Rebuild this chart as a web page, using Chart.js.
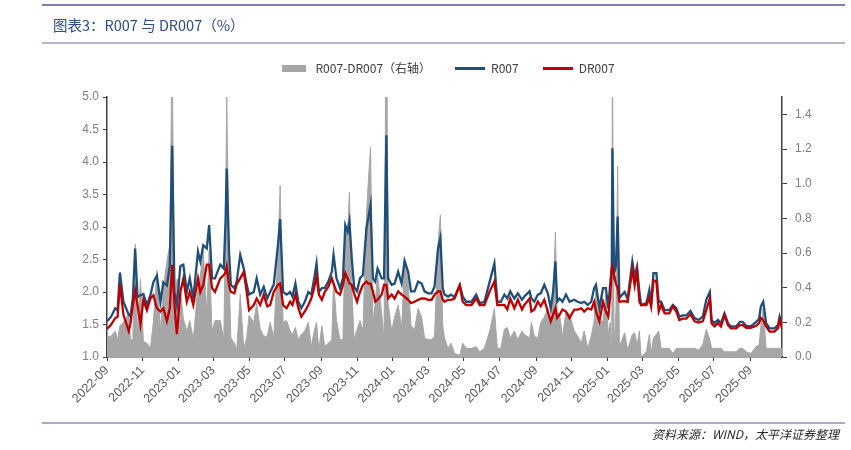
<!DOCTYPE html>
<html lang="zh-CN">
<head>
<meta charset="utf-8">
<title>R007 与 DR007</title>
<script src="https://cdn.jsdelivr.net/npm/chart.js@4.4.1/dist/chart.umd.min.js"></script>
<style>
  html, body { margin: 0; padding: 0; background: #fff; }
  #wrap { position: relative; width: 851px; height: 450px; overflow: hidden; }
  #chart { position: absolute; left: 0; top: 0; }
  .rule { position: absolute; left: 42px; width: 803px; }
  #title { position: absolute; left: 53px; top: 14px; font: 14.5px "Noto Sans CJK SC"; line-height: 22px; color: #2e4d86; }
  #source { position: absolute; right: 12px; top: 425px; font: italic 12px "Noto Sans CJK SC"; line-height: 18px; color: #262626; }
</style>
</head>
<body>
<div id="wrap">
  <canvas id="chart" width="851" height="450"></canvas>
  <div class="rule" style="top:4px;height:2px;background:#7f7fa8"></div>
  <div id="title">图表3：R007 与 DR007（%）</div>
  <div class="rule" style="top:42px;height:2px;background:#b5b5cf"></div>
  <div class="rule" style="top:422px;height:2px;background:#aaaacb"></div>
  <div id="source">资料来源：WIND，太平洋证券整理</div>
</div>
<script>
// 数据（从原图读取，约每周一个点）
const dates = [
  '2022-09-01','2022-09-08','2022-09-15','2022-09-19','2022-09-23','2022-09-29','2022-10-08','2022-10-11','2022-10-15','2022-10-19',
  '2022-10-23','2022-10-28','2022-11-02','2022-11-08','2022-11-14','2022-11-19','2022-11-25','2022-12-01','2022-12-06','2022-12-12',
  '2022-12-17','2022-12-21','2022-12-25','2022-12-29','2023-01-04','2023-01-09','2023-01-15','2023-01-20','2023-01-26','2023-02-03',
  '2023-02-07','2023-02-12','2023-02-18','2023-02-22','2023-02-27','2023-03-04','2023-03-13','2023-03-19','2023-03-22','2023-03-24',
  '2023-03-28','2023-03-31','2023-04-06','2023-04-10','2023-04-16','2023-04-22','2023-04-27','2023-05-01','2023-05-09','2023-05-14',
  '2023-05-20','2023-05-26','2023-06-01','2023-06-06','2023-06-12','2023-06-19','2023-06-23','2023-06-28','2023-07-04','2023-07-10',
  '2023-07-14','2023-07-19','2023-07-24','2023-07-29','2023-08-04','2023-08-10','2023-08-15','2023-08-20','2023-08-24','2023-08-28',
  '2023-09-02','2023-09-07','2023-09-13','2023-09-19','2023-09-22','2023-09-27','2023-10-03','2023-10-08','2023-10-12','2023-10-16',
  '2023-10-19','2023-10-23','2023-10-27','2023-11-01','2023-11-06','2023-11-11','2023-11-17','2023-11-20','2023-11-24','2023-11-28',
  '2023-12-02','2023-12-06','2023-12-13','2023-12-17','2023-12-21','2023-12-24','2023-12-30','2024-01-04','2024-01-10','2024-01-16',
  '2024-01-21','2024-01-27','2024-02-01','2024-02-07','2024-02-13','2024-02-19','2024-02-24','2024-03-01','2024-03-07','2024-03-12',
  '2024-03-18','2024-03-22','2024-03-26','2024-03-29','2024-04-04','2024-04-09','2024-04-15','2024-04-24','2024-04-29','2024-05-05',
  '2024-05-14','2024-05-22','2024-05-28','2024-06-05','2024-06-14','2024-06-22','2024-06-27','2024-07-03','2024-07-09','2024-07-14',
  '2024-07-19','2024-07-26','2024-08-01','2024-08-08','2024-08-12','2024-08-21','2024-08-24','2024-08-29','2024-09-04','2024-09-09',
  '2024-09-15','2024-09-21','2024-09-26','2024-09-30','2024-10-04','2024-10-07','2024-10-11','2024-10-16','2024-10-22','2024-10-28',
  '2024-11-05','2024-11-11','2024-11-17','2024-11-22','2024-11-28','2024-12-04','2024-12-09','2024-12-12','2024-12-18','2024-12-24',
  '2024-12-29','2025-01-02','2025-01-05','2025-01-08','2025-01-09','2025-01-12','2025-01-15','2025-01-18','2025-01-21','2025-01-30',
  '2025-02-04','2025-02-12','2025-02-16','2025-02-20','2025-02-24','2025-02-27','2025-03-08','2025-03-13','2025-03-16','2025-03-20',
  '2025-03-25','2025-03-29','2025-04-02','2025-04-08','2025-04-16','2025-04-22','2025-04-28','2025-05-03','2025-05-09','2025-05-15',
  '2025-05-22','2025-05-29','2025-06-05','2025-06-12','2025-06-18','2025-06-24','2025-06-27','2025-07-02','2025-07-08','2025-07-13',
  '2025-07-19','2025-07-25','2025-07-30','2025-08-08','2025-08-14','2025-08-19','2025-08-25','2025-09-02','2025-09-11','2025-09-16',
  '2025-09-19','2025-09-23','2025-09-28','2025-10-04','2025-10-12','2025-10-18','2025-10-21','2025-10-25'
];
const r007 = [
  1.55,1.62,1.75,1.72,2.30,1.85,1.65,1.62,1.90,2.67,
  1.92,1.95,1.97,1.80,1.95,2.15,2.25,1.85,2.15,2.10,
  2.40,4.25,2.00,1.80,2.40,2.42,2.00,2.21,1.90,2.62,
  2.47,2.72,2.67,3.03,2.21,2.21,2.42,2.36,3.10,3.90,
  2.60,2.11,2.06,2.16,2.57,2.36,2.11,1.96,2.00,2.21,
  1.96,2.08,1.90,2.00,2.11,2.70,3.12,2.00,1.96,2.00,
  1.93,2.13,1.85,1.75,1.85,2.00,1.96,2.21,2.44,2.00,
  2.06,2.06,2.16,2.31,2.57,2.21,2.06,2.21,3.03,2.93,
  3.08,2.52,2.08,2.01,2.21,2.26,2.98,3.13,3.34,2.21,
  2.16,2.36,2.21,2.21,4.41,2.21,2.11,2.13,2.31,2.13,
  2.48,2.31,2.01,2.01,2.16,2.13,2.01,1.98,1.98,2.08,
  2.67,2.83,2.06,1.96,1.93,1.96,1.92,2.11,1.93,1.85,
  1.85,1.96,1.83,1.85,2.16,2.44,1.85,1.85,1.96,1.90,
  2.01,1.90,1.98,1.88,1.93,2.01,1.90,1.85,1.96,1.98,
  2.11,1.98,1.75,2.00,2.47,1.85,1.90,1.85,1.96,1.85,
  1.88,1.85,1.83,1.85,1.80,1.85,2.06,2.11,1.75,2.06,
  2.06,1.75,2.10,2.40,4.21,2.29,2.39,3.16,1.91,2.00,
  1.89,2.47,2.24,2.39,2.00,1.80,1.83,2.03,1.80,2.29,
  2.29,1.85,1.85,1.72,1.72,1.80,1.75,1.62,1.64,1.64,
  1.71,1.60,1.57,1.62,1.88,2.00,1.57,1.52,1.57,1.52,
  1.67,1.52,1.47,1.47,1.54,1.54,1.48,1.47,1.54,1.59,
  1.78,1.85,1.52,1.44,1.44,1.49,1.62,1.49
];
const dr007 = [
  1.43,1.50,1.60,1.62,2.12,1.65,1.40,1.52,1.80,2.02,
  1.80,1.50,1.88,1.72,1.90,1.95,1.75,1.70,1.75,1.55,
  1.75,2.42,1.80,1.35,2.00,2.20,1.85,2.00,1.80,2.21,
  2.00,2.11,2.42,2.42,2.06,2.00,2.21,2.26,2.30,2.39,
  2.10,2.00,1.98,2.12,2.21,2.31,2.00,1.72,1.80,1.90,
  1.80,1.96,1.78,1.80,2.00,2.11,2.13,1.80,1.75,1.85,
  1.80,1.96,1.75,1.62,1.70,1.80,1.90,2.06,2.24,1.96,
  1.88,2.00,2.08,2.21,2.13,2.00,1.96,2.11,2.29,2.21,
  2.13,2.11,1.98,1.85,2.00,2.11,2.16,2.13,2.13,2.01,
  1.85,1.88,1.96,2.11,2.11,1.90,1.96,1.90,2.01,1.96,
  1.93,1.88,1.83,1.85,1.88,1.90,1.90,1.88,1.88,1.96,
  2.01,2.01,1.88,1.85,1.88,1.88,1.90,2.10,1.85,1.80,
  1.80,1.90,1.80,1.80,2.01,2.16,1.80,1.80,1.80,1.73,
  1.90,1.75,1.88,1.73,1.80,1.90,1.70,1.73,1.85,1.78,
  1.88,1.70,1.55,1.65,1.75,1.60,1.65,1.73,1.70,1.60,
  1.73,1.73,1.75,1.70,1.75,1.73,1.85,1.70,1.55,1.85,
  1.70,1.62,1.90,2.35,2.39,2.26,2.13,2.06,1.85,1.86,
  1.85,2.34,2.10,2.32,1.85,1.80,1.80,1.90,1.78,2.18,
  2.16,1.70,1.80,1.67,1.67,1.78,1.70,1.57,1.59,1.59,
  1.66,1.55,1.53,1.55,1.72,1.90,1.52,1.47,1.52,1.47,
  1.64,1.49,1.44,1.44,1.49,1.49,1.45,1.45,1.48,1.52,
  1.60,1.57,1.47,1.39,1.39,1.44,1.57,1.44
];
const tickLabels = ['2022-09','2022-11','2023-01','2023-03','2023-05','2023-07','2023-09','2023-11','2024-01','2024-03',
  '2024-05','2024-07','2024-09','2024-11','2025-01','2025-03','2025-05','2025-07','2025-09'];
const leftTicks = [1.0, 1.5, 2.0, 2.5, 3.0, 3.5, 4.0, 4.5, 5.0];
const rightTicks = [0.0, 0.2, 0.4, 0.6, 0.8, 1.0, 1.2, 1.4];

// 日期 -> 距 2022-09-01 的天数
const START = Date.UTC(2022, 8, 1);
function toDay(s) {
  const p = s.split('-').map(Number);
  return (Date.UTC(p[0], p[1] - 1, p[2] || 1) - START) / 864e5;
}
const xs = dates.map(toDay);
const tickDays = tickLabels.map(toDay);
const spread = r007.map((v, i) => +(v - dr007[i]).toFixed(2)); // R007-DR007

// 图例标记
function marker(color, w, h) {
  const c = document.createElement('canvas');
  c.width = w;
  c.height = h;
  const g = c.getContext('2d');
  g.fillStyle = color;
  g.fillRect(0, 0, w, h);
  return c;
}

// 图例和绘图区之间留空
const legendGap = {
  id: 'legendGap',
  beforeInit(chart) {
    const fit = chart.legend.fit;
    chart.legend.fit = function () {
      fit.call(this);
      this.height += 13;
    };
  }
};

const tickFont = { family: 'Liberation Sans', size: 12 };
const axisColor = '#404040';

new Chart(document.getElementById('chart'), {
  type: 'line',
  data: {
    datasets: [
      {
        label: 'R007-DR007（右轴）',
        data: xs.map((x, i) => ({ x: x, y: spread[i] })),
        xAxisID: 'x',
        yAxisID: 'y1',
        fill: 'origin',
        backgroundColor: '#a6a6a6',
        borderColor: '#a6a6a6',
        borderWidth: 1,
        pointRadius: 0,
        pointStyle: marker('#a6a6a6', 24, 7),
        order: 3
      },
      {
        label: 'R007',
        data: xs.map((x, i) => ({ x: x, y: r007[i] })),
        xAxisID: 'x',
        yAxisID: 'y',
        borderColor: '#1f4e79',
        borderWidth: 2.3,
        pointRadius: 0,
        pointStyle: marker('#1f4e79', 30, 3),
        fill: false,
        order: 2
      },
      {
        label: 'DR007',
        data: xs.map((x, i) => ({ x: x, y: dr007[i] })),
        xAxisID: 'x',
        yAxisID: 'y',
        borderColor: '#c00000',
        borderWidth: 2.3,
        pointRadius: 0,
        pointStyle: marker('#c00000', 30, 3),
        fill: false,
        order: 1
      }
    ]
  },
  options: {
    responsive: false,
    animation: false,
    layout: { padding: { left: 53, right: 10, top: 38, bottom: 0 } },
    plugins: {
      tooltip: { enabled: false },
      legend: {
        position: 'top',
        labels: {
          usePointStyle: true,
          pointStyleWidth: 30,
          padding: 24,
          color: '#404040',
          font: { family: 'Noto Sans CJK SC', size: 12 },
          sort: (a, b) => a.datasetIndex - b.datasetIndex
        }
      }
    },
    scales: {
      x: {
        type: 'linear',
        position: 'bottom',
        min: 0,
        max: 1150,
        afterBuildTicks: (axis) => { axis.ticks = tickDays.map(v => ({ value: v })); },
        afterFit: (axis) => { axis.height = 93; },
        ticks: {
          autoSkip: false,
          minRotation: 45,
          maxRotation: 45,
          padding: 2,
          color: '#595959',
          font: { family: 'Liberation Sans', size: 12.5 },
          callback: (v, i) => tickLabels[i]
        },
        grid: { drawOnChartArea: false, drawTicks: true, tickLength: 4, color: axisColor },
        border: { color: axisColor, width: 1.5 }
      },
      y: {
        position: 'left',
        min: 1,
        max: 5,
        afterBuildTicks: (axis) => { axis.ticks = leftTicks.map(v => ({ value: v })); },
        afterFit: (axis) => { axis.width = 54; },
        ticks: {
          padding: 4,
          color: '#808080',
          font: tickFont,
          callback: (v) => Number(v).toFixed(1)
        },
        grid: { drawOnChartArea: false, drawTicks: true, tickLength: 4, color: axisColor },
        border: { color: axisColor, width: 1.5 }
      },
      y1: {
        position: 'right',
        min: 0,
        max: 1.5,
        afterBuildTicks: (axis) => { axis.ticks = rightTicks.map(v => ({ value: v })); },
        afterFit: (axis) => { axis.width = 59; },
        ticks: {
          padding: 8,
          color: '#808080',
          font: tickFont,
          callback: (v) => Number(v).toFixed(1)
        },
        grid: { drawOnChartArea: false, drawTicks: true, tickLength: 5, color: axisColor },
        border: { color: axisColor, width: 1.5 }
      }
    }
  },
  plugins: [legendGap]
});
</script>
</body>
</html>
